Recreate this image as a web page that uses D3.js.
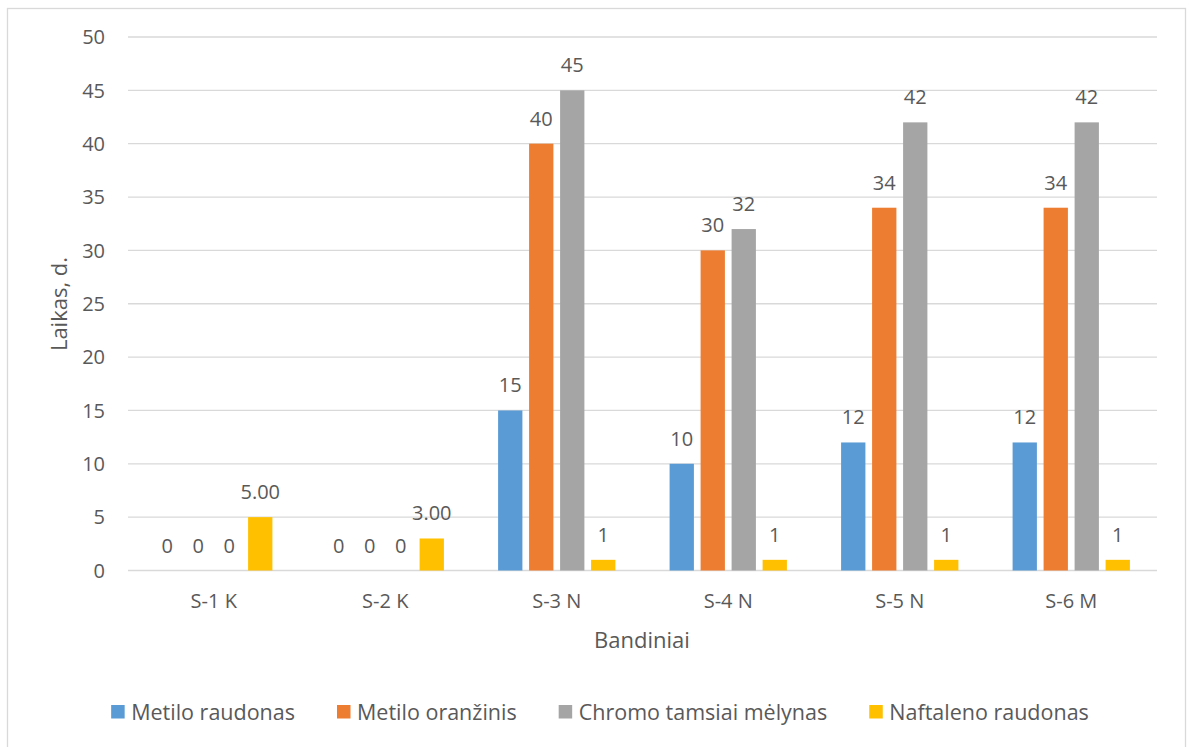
<!DOCTYPE html>
<html>
<head>
<meta charset="utf-8">
<script src="https://cdn.jsdelivr.net/npm/d3@7"></script>
<style>
  body { margin: 0; background: #fff; }
  text { font-family: "Open Sans", "Noto Sans", sans-serif; fill: #595959; }
</style>
</head>
<body>
<script>
// Data
var categories = ["S-1 K", "S-2 K", "S-3 N", "S-4 N", "S-5 N", "S-6 M"];
var seriesNames = ["Metilo raudonas", "Metilo oranžinis", "Chromo tamsiai mėlynas", "Naftaleno raudonas"];
var metiloRaudonas = [0, 0, 15, 10, 12, 12];
var metiloOranzinis = [0, 0, 40, 30, 34, 34];
var chromoMelynas = [0, 0, 45, 32, 42, 42];
var naftalenoRaudonas = [5, 3, 1, 1, 1, 1];
var naftalenoLabels = ["5.00", "3.00", "1", "1", "1", "1"];
var yTicks = [0, 5, 10, 15, 20, 25, 30, 35, 40, 45, 50];
var colors = ["#5B9BD5", "#ED7D31", "#A5A5A5", "#FFC000"];

var allValues = [metiloRaudonas, metiloOranzinis, chromoMelynas, naftalenoRaudonas];

var W = 1189, H = 747;

var svg = d3.select("body")
  .append("svg")
    .attr("width", W)
    .attr("height", H);

// chart border
svg.append("rect")
  .attr("x", 7.5).attr("y", 8.5)
  .attr("width", 1178).attr("height", 745)
  .attr("fill", "none")
  .attr("stroke", "#D9D9D9")
  .attr("stroke-width", 1.3);

// Scales
var y = d3.scaleLinear()
  .domain([0, 50])
  .range([570.5, 37]);

var x0 = d3.scaleBand()
  .domain(categories)
  .range([128, 1157]);

var x1 = d3.scaleBand()
  .domain(seriesNames)
  .range([0, x0.bandwidth()])
  .paddingInner(0.216)
  .paddingOuter(0.874);

// gridlines
svg.append("g")
  .selectAll("line")
  .data(yTicks)
  .enter()
  .append("line")
    .attr("x1", 128)
    .attr("x2", 1157)
    .attr("y1", function(d) { return y(d); })
    .attr("y2", function(d) { return y(d); })
    .attr("stroke", "#D9D9D9")
    .attr("stroke-width", 1.3);

// Y tick labels
svg.append("g")
  .selectAll("text")
  .data(yTicks)
  .enter()
  .append("text")
    .attr("x", 105)
    .attr("y", function(d) { return y(d); })
    .attr("dy", "0.36em")
    .attr("text-anchor", "end")
    .style("font-size", "20px")
    .text(function(d) { return d; });

// X category labels
svg.append("g")
  .selectAll("text")
  .data(categories)
  .enter()
  .append("text")
    .attr("x", function(d) { return x0(d) + x0.bandwidth() / 2; })
    .attr("y", 608)
    .attr("text-anchor", "middle")
    .style("font-size", "20px")
    .text(function(d) { return d; });

// Bars
var rows = [];
categories.forEach(function(c, i) {
  seriesNames.forEach(function(s, j) {
    var label = j === 3 ? naftalenoLabels[i] : String(allValues[j][i]);
    rows.push({cat: c, series: s, idx: j, value: allValues[j][i], label: label});
  });
});

svg.append("g")
  .selectAll("rect")
  .data(rows)
  .enter()
  .append("rect")
    .attr("x", function(d) { return x0(d.cat) + x1(d.series); })
    .attr("y", function(d) { return y(d.value); })
    .attr("width", x1.bandwidth())
    .attr("height", function(d) { return y(0) - y(d.value); })
    .attr("fill", function(d) { return colors[d.idx]; });

// Value labels
svg.append("g")
  .selectAll("text")
  .data(rows)
  .enter()
  .append("text")
    .attr("x", function(d) { return x0(d.cat) + x1(d.series) + x1.bandwidth() / 2; })
    .attr("y", function(d) { return y(d.value) - 18; })
    .attr("text-anchor", "middle")
    .style("font-size", "20px")
    .text(function(d) { return d.label; });

// Axis titles
svg.append("text")
  .attr("transform", "translate(67,304) rotate(-90)")
  .attr("text-anchor", "middle")
  .style("font-size", "22px")
  .text("Laikas, d.");

svg.append("text")
  .attr("x", 642)
  .attr("y", 648)
  .attr("text-anchor", "middle")
  .style("font-size", "22px")
  .text("Bandiniai");

// Legend
var legend = svg.append("g");
var items = legend.selectAll("g")
  .data(seriesNames)
  .enter()
  .append("g");

items.append("rect")
  .attr("width", 13.5)
  .attr("height", 13.5)
  .attr("y", 705)
  .attr("fill", function(d, i) { return colors[i]; });

items.append("text")
  .attr("x", 20)
  .attr("y", 719.5)
  .style("font-size", "21.5px")
  .text(function(d) { return d; });

var pos = 0;
var offsets = [];
items.each(function() {
  var w = d3.select(this).select("text").node().getComputedTextLength();
  offsets.push(pos);
  pos += 20 + w + 42;
});
var total = pos - 42;
var start = 600 - total / 2;
items.attr("transform", function(d, i) { return "translate(" + (start + offsets[i]) + ",0)"; });
</script>
</body>
</html>
